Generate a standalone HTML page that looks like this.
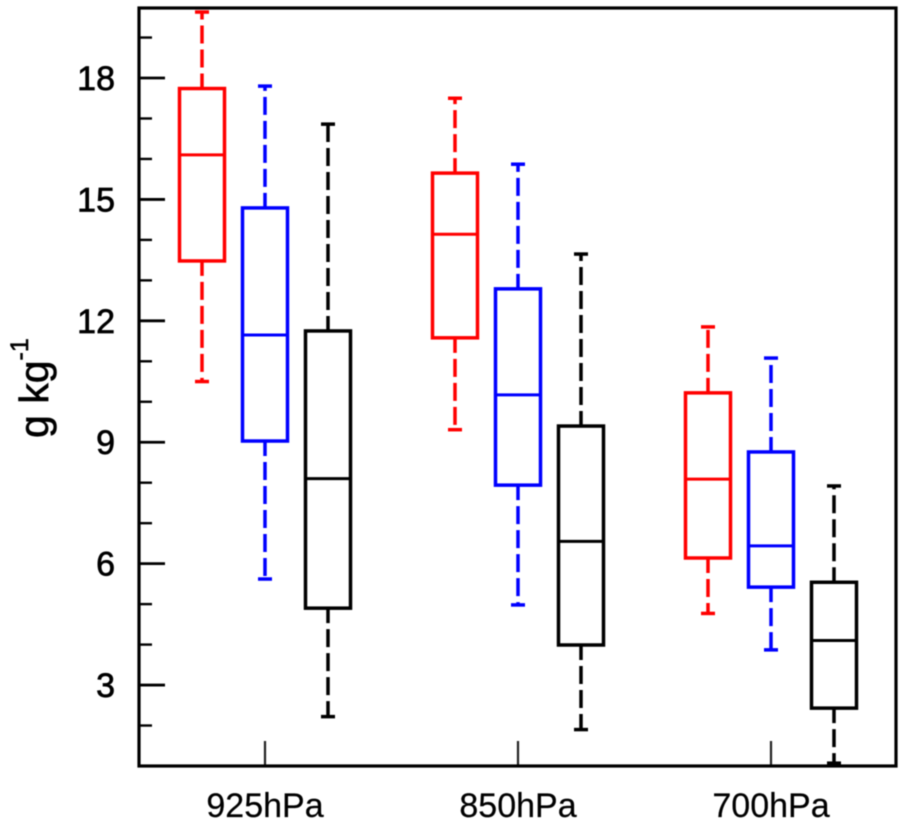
<!DOCTYPE html>
<html lang="en">
<head>
<meta charset="utf-8">
<title>Box plot of specific humidity by pressure level</title>
<style>
html,body{margin:0;padding:0;background:#fff;}
svg{display:block;}
text{font-family:"Liberation Sans",Arial,sans-serif;fill:#000;}
</style>
</head>
<body>
<svg id="chart" xmlns="http://www.w3.org/2000/svg" width="905" height="826" viewBox="0 0 905 826" style="filter:blur(0.6px)"></svg>
<script>
const categories = ["925hPa", "850hPa", "700hPa"];
const seriesNames = ["red", "blue", "black"];
const seriesColors = ["#ff0000", "#0000ff", "#000000"];
const yTickLabels = [3, 6, 9, 12, 15, 18];
const yMinorTicks = [2, 4, 5, 7, 8, 10, 11, 13, 14, 16, 17, 19];
// One row per category, one value per series
const whiskerHigh = [[19.63, 17.80, 16.86], [17.50, 15.87, 13.65], [11.85, 11.08, 7.92]];
const quartile3   = [[17.74, 14.79, 11.75], [15.65, 12.79, 9.40], [10.22, 8.76, 5.54]];
const medians     = [[16.10, 11.65, 8.10], [14.14, 10.17, 6.55], [8.09, 6.44, 4.10]];
const quartile1   = [[13.48, 9.03, 4.90], [11.58, 7.94, 3.99], [6.14, 5.42, 2.43]];
const whiskerLow  = [[10.50, 5.62, 2.22], [9.31, 4.98, 1.90], [4.77, 3.87, 1.07]];

const svg = document.getElementById('chart');
const NS = 'http://www.w3.org/2000/svg';
const plot = {left: 139, right: 896, top: 8, bottom: 766};
const yMin = 1, yMax = 19.73;
const groupFirstX = 265, groupStep = 253, seriesOffset = 63;
const boxHalf = 22.5, capHalf = 7;

function yScale(v) { return plot.bottom - (v - yMin) / (yMax - yMin) * (plot.bottom - plot.top); }
function xScale(groupIndex) { return groupFirstX + groupIndex * groupStep; }

function make(tag, attrs, parent, text) {
  const el = document.createElementNS(NS, tag);
  for (const k in attrs) el.setAttribute(k, attrs[k]);
  if (text !== undefined) el.textContent = text;
  parent.appendChild(el);
  return el;
}

// y ticks
yMinorTicks.forEach(function (v) {
  const t = make('line', {x1: plot.left, x2: plot.left + 13, y1: yScale(v), y2: yScale(v), stroke: '#000', 'stroke-width': 2.4}, svg);
  
  
});
yTickLabels.forEach(function (v) {
  const t = make('line', {x1: plot.left, x2: plot.left + 26, y1: yScale(v), y2: yScale(v), stroke: '#000', 'stroke-width': 2.8}, svg);
  
  
  const l = make('text', {x: 115, y: yScale(v) + 12, 'text-anchor': 'end', 'font-size': 34, stroke: '#000', 'stroke-width': 0.7}, svg, String(v));
  
  
});

// category ticks and labels
categories.forEach(function (c, i) {
  const x = xScale(i);
  const t = make('line', {x1: x, x2: x, y1: plot.bottom, y2: plot.bottom - 25, stroke: '#222', 'stroke-width': 2.2}, svg);
  
  
  const l = make('text', {x: x, y: 817, 'text-anchor': 'middle', 'font-size': 34, stroke: '#000', 'stroke-width': 0.2}, svg, c);
  
  
});

// boxes
categories.forEach(function (c, i) {
  seriesNames.forEach(function (name, s) {
    const x = xScale(i) + (s - 1) * seriesOffset;
    const color = seriesColors[s];
    const g = make('g', {stroke: color, fill: 'none', 'stroke-width': 3.5}, svg);
    
    
    const yHi = yScale(whiskerHigh[i][s]), yQ3 = yScale(quartile3[i][s]);
    const yMed = yScale(medians[i][s]), yQ1 = yScale(quartile1[i][s]), yLo = yScale(whiskerLow[i][s]);

    const upper = make('line', {x1: x, x2: x, y1: yQ3, y2: yHi, 'stroke-dasharray': '18 6', 'stroke-dashoffset': 3}, g);
    
    
    const lower = make('line', {x1: x, x2: x, y1: yQ1, y2: yLo, 'stroke-dasharray': '18 6', 'stroke-dashoffset': 3}, g);
    
    
    const capHi = make('line', {x1: x - capHalf, x2: x + capHalf, y1: yHi, y2: yHi}, g);
    
    
    const capLo = make('line', {x1: x - capHalf, x2: x + capHalf, y1: yLo, y2: yLo}, g);
    
    
    const rect = make('rect', {x: x - boxHalf, y: yQ3, width: boxHalf * 2, height: yQ1 - yQ3, fill: '#fff'}, g);
    
    
    const med = make('line', {x1: x - boxHalf, x2: x + boxHalf, y1: yMed, y2: yMed, 'stroke-width': 3}, g);
    
    
  });
});

// plot frame
const frame = make('rect', {x: plot.left, y: plot.top, width: plot.right - plot.left, height: plot.bottom - plot.top, fill: 'none', stroke: '#000', 'stroke-width': 3.2}, svg);



// y axis title
const title = make('text', {transform: 'translate(48,438) rotate(-90)', 'font-size': 41, stroke: '#000', 'stroke-width': 0.6}, svg);


make('tspan', {}, title, 'g kg');
make('tspan', {dy: -20, 'font-size': 25}, title, '-1');
</script>
</body>
</html>
